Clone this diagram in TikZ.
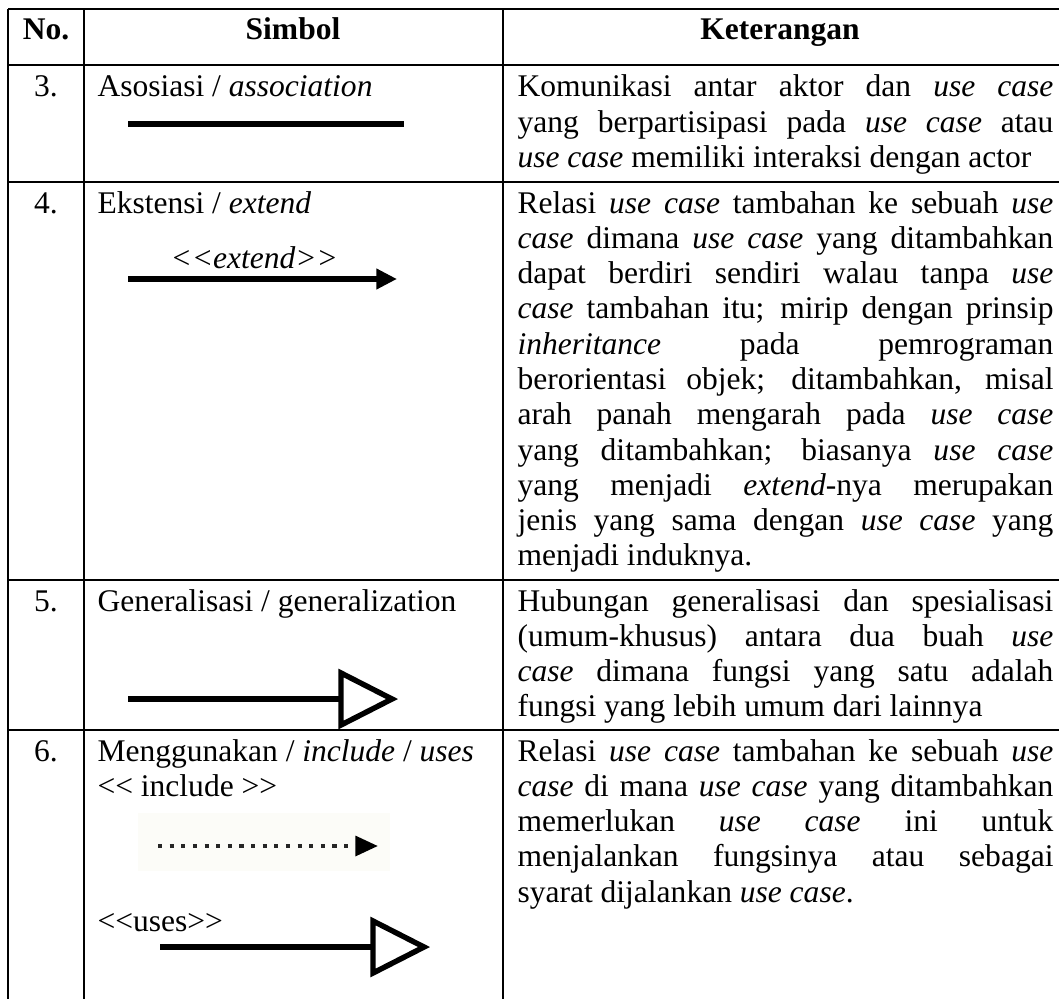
\documentclass[tikz,border=0pt]{standalone}
\usepackage{fontspec}
\setmainfont{Liberation Serif}
\usetikzlibrary{arrows.meta}
\newcommand\LLt{<\kern0pt<}
\newcommand\GGt{>\kern0pt>}
\newcommand\J[1]{\hbox to 207.4pt{#1}}
\newcommand\R[1]{\hbox to 207.4pt{#1\hfil}}
\newcommand\ii[1]{\textit{#1}}
\tikzset{
  tbl/.style={line width=0.55pt, draw=black},
  cell/.style={anchor=base west, inner sep=0pt, font=\fontsize{12.2pt}{13.66pt}\selectfont},
  ctr/.style={anchor=base, inner sep=0pt, font=\fontsize{12.2pt}{13.66pt}\selectfont},
  hdr/.style={anchor=base, inner sep=0pt, font=\fontsize{12.2pt}{13.66pt}\selectfont\bfseries},
  thick line/.style={line width=2.3pt, line cap=butt},
  open head/.style={line width=2.1pt, line join=miter},
  dots line/.style={line width=1.7pt, draw=black!85, dash pattern=on 1.6pt off 2.9pt},
}
\newcommand\Para[1]{\vtop{\baselineskip=13.66pt\lineskiplimit=-10pt #1}}
\begin{document}
\begin{tikzpicture}[x=0.387pt,y=-0.387pt]
\fill[white] (0,0) rectangle (1059,999);
\useasboundingbox (0,0) rectangle (1059,999);
% table rules
\draw[tbl] (8,9) -- (1059,9);
\draw[tbl] (8,65) -- (1059,65);
\draw[tbl] (8,182) -- (1059,182);
\draw[tbl] (8,580) -- (1059,580);
\draw[tbl] (8,730) -- (1059,730);
\draw[tbl] (8,9) -- (8,999);
\draw[tbl] (84,9) -- (84,999);
\draw[tbl] (503,9) -- (503,999);
% header
\node[hdr] (hno) at (46,40) {No.};
\node[hdr] (hsim) at (293,40) {Simbol};
\node[hdr] (hket) at (780,40) {Keterangan};
% numbers
\node[ctr] (n3) at (46,97) {3.};
\node[ctr] (n4) at (46,213) {4.};
\node[ctr] (n5) at (46,611) {5.};
\node[ctr] (n6) at (46,761) {6.};
% symbol column
\node[cell] (s3) at (97,97) {Asosiasi / \ii{association}};
\coordinate (a1) at (128,124);
\coordinate (a2) at (404,124);
\draw[thick line] (a1) -- (a2);

\node[cell] (s4) at (97,213) {Ekstensi / \ii{extend}};
\node[cell] (ext) at (170,268) {\ii{\LLt extend\GGt}};
\coordinate (e1) at (128,279);
\coordinate (e2) at (397,279);
\draw[thick line, -{Triangle[length=8pt,width=7.6pt]}] (e1) -- (e2);

\node[cell] (s5) at (97,611) {Generalisasi / generalization};
\coordinate (g1) at (128,699);
\coordinate (g2) at (341,699);
\coordinate (gt) at (392,699);
\draw[thick line] (g1) -- (g2);
\draw[open head] (341,673) -- (gt) -- (341,725) -- cycle;

\node[cell] (s6) at (97,761) {Menggunakan / \ii{include} / \ii{uses}};
\node[cell] (inc) at (97,796) {\LLt{} include \GGt};
\fill[fill={rgb,255:red,252;green,252;blue,248}] (138,813) rectangle (390,871);
\coordinate (d1) at (158,846);
\coordinate (d2) at (378,846);
\draw[dots line, -{Triangle[length=8.8pt,width=7.6pt,black]}] (d1) -- (d2);
\node[cell] (uses) at (97,931) {\LLt uses\GGt};
\coordinate (u1) at (160,947);
\coordinate (u2) at (373,947);
\coordinate (ut) at (424,947);
\draw[thick line] (u1) -- (u2);
\draw[open head] (373,921) -- (ut) -- (373,973) -- cycle;
% description column
\node[cell] (k3) at (517,97) {\Para{%
\J{Komunikasi antar aktor dan \ii{use case}}%
\J{yang berpartisipasi pada \ii{use case} atau}%
\R{\ii{use case} memiliki interaksi dengan actor}}};
\node[cell] (k4) at (517,213) {\Para{%
\J{Relasi \ii{use case} tambahan ke sebuah \ii{use}}%
\J{\ii{case} dimana \ii{use case} yang ditambahkan}%
\J{dapat berdiri sendiri walau tanpa \ii{use}}%
\J{\ii{case} tambahan itu; mirip dengan prinsip}%
\J{\ii{inheritance} pada pemrograman}%
\J{berorientasi objek; ditambahkan, misal}%
\J{arah panah mengarah pada \ii{use case}}%
\J{yang ditambahkan; biasanya \ii{use case}}%
\J{yang menjadi \ii{extend}-nya merupakan}%
\J{jenis yang sama dengan \ii{use case} yang}%
\R{menjadi induknya.}}};
\node[cell] (k5) at (517,611) {\Para{%
\J{Hubungan generalisasi dan spesialisasi}%
\J{(umum-khusus) antara dua buah \ii{use}}%
\J{\ii{case} dimana fungsi yang satu adalah}%
\R{fungsi yang lebih umum dari lainnya}}};
\node[cell] (k6) at (517,761) {\Para{%
\J{Relasi \ii{use case} tambahan ke sebuah \ii{use}}%
\J{\ii{case} di mana \ii{use case} yang ditambahkan}%
\J{memerlukan \ii{use case} ini untuk}%
\J{menjalankan fungsinya atau sebagai}%
\R{syarat dijalankan \ii{use case}.}}};
\end{tikzpicture}
\end{document}
